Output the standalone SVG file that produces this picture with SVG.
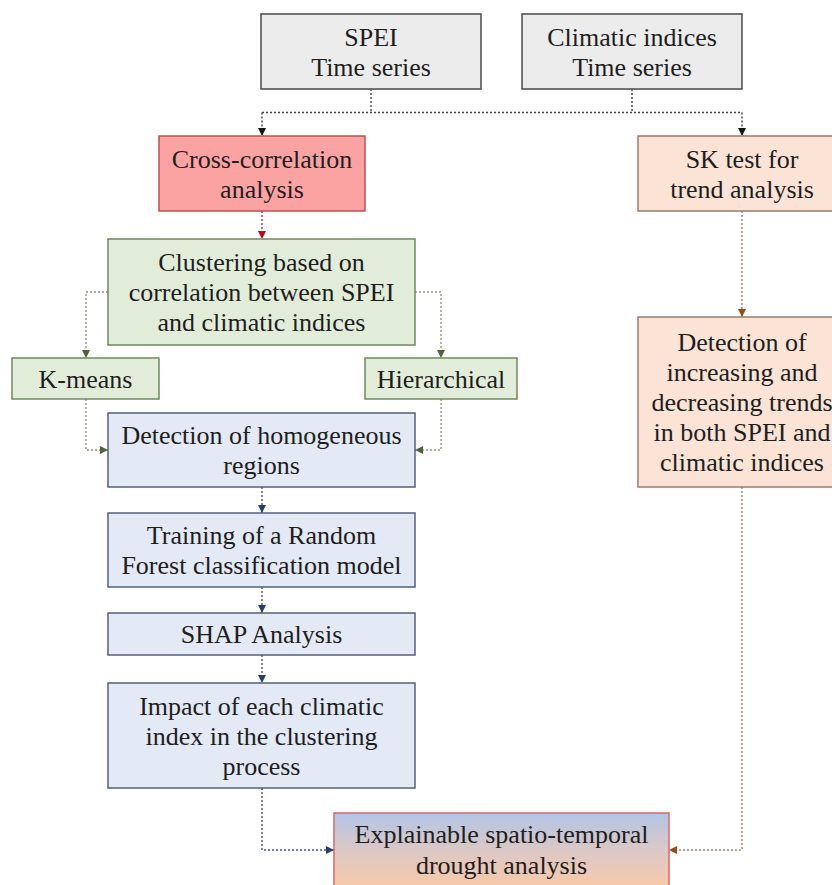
<svg xmlns="http://www.w3.org/2000/svg" width="832" height="885" viewBox="0 0 832 885">
<style>
text{font-family:"Liberation Serif","Times New Roman",serif;font-size:26px;fill:#1e1e1e;text-anchor:middle}
.box{stroke-width:1.5}
.gray{fill:#ececec;stroke:#4a4a4a}
.red{fill:#fba3a3;stroke:#c0504d}
.peach{fill:#fbe3d5;stroke:#9c7b6c}
.green{fill:#e2edd9;stroke:#6d8a5c}
.blue{fill:#e3e9f5;stroke:#56617a}
.final{fill:url(#gr);stroke:#e06464}
.c{fill:none;stroke-width:1.4;stroke-dasharray:2 2}
.ck{stroke:#444}
.cr{stroke:#b03030}
.cg{stroke:#8a9a80}
.cb{stroke:#4a5570}
.co{stroke:#a08070}
</style>
<defs>
<linearGradient id="gr" x1="0" y1="0" x2="0" y2="1">
<stop offset="0" stop-color="#b2c5e6"/>
<stop offset="0.5" stop-color="#dcc8c6"/>
<stop offset="1" stop-color="#f9c9a8"/>
</linearGradient>
<marker id="ak" markerUnits="userSpaceOnUse" markerWidth="10" markerHeight="10" refX="8" refY="5" orient="auto"><path d="M0,1 L8,5 L0,9 Z" fill="#111"/></marker>
<marker id="ar" markerUnits="userSpaceOnUse" markerWidth="10" markerHeight="10" refX="8" refY="5" orient="auto"><path d="M0,1 L8,5 L0,9 Z" fill="#c0001a"/></marker>
<marker id="ag" markerUnits="userSpaceOnUse" markerWidth="10" markerHeight="10" refX="8" refY="5" orient="auto"><path d="M0,1 L8,5 L0,9 Z" fill="#4e6438"/></marker>
<marker id="ab" markerUnits="userSpaceOnUse" markerWidth="10" markerHeight="10" refX="8" refY="5" orient="auto"><path d="M0,1 L8,5 L0,9 Z" fill="#24406a"/></marker>
<marker id="ao" markerUnits="userSpaceOnUse" markerWidth="10" markerHeight="10" refX="8" refY="5" orient="auto"><path d="M0,1 L8,5 L0,9 Z" fill="#9a4a1a"/></marker>
</defs>

<g id="connectors">
<path class="c ck" d="M371,89 V112.5 M632,89 V112.5 M262,112.5 H742"/>
<path class="c ck" d="M262,112.5 V136" marker-end="url(#ak)"/>
<path class="c ck" d="M742,112.5 V136" marker-end="url(#ak)"/>
<path class="c cr" d="M262,211 V239" marker-end="url(#ar)"/>
<path class="c cg" d="M108,292 H86 V358" marker-end="url(#ag)"/>
<path class="c cg" d="M415,292 H441 V358" marker-end="url(#ag)"/>
<path class="c cg" d="M86,399 V450 H108" marker-end="url(#ag)"/>
<path class="c cg" d="M441,399 V450 H415" marker-end="url(#ag)"/>
<path class="c cb" d="M262,487 V513" marker-end="url(#ab)"/>
<path class="c cb" d="M262,587 V613" marker-end="url(#ab)"/>
<path class="c cb" d="M262,655 V683" marker-end="url(#ab)"/>
<path class="c cb" d="M262,788 V850 H334" marker-end="url(#ab)"/>
<path class="c co" d="M742,211 V317" marker-end="url(#ao)"/>
<path class="c co" d="M742,487 V850 H669" marker-end="url(#ao)"/>
</g>

<g id="spei"><rect class="box gray" x="261" y="14" width="220" height="75"/>
<text x="371" y="45.5">SPEI</text><text x="371" y="75.5">Time series</text></g>

<g id="climatic"><rect class="box gray" x="522" y="14" width="220" height="75"/>
<text x="632" y="45.5">Climatic indices</text><text x="632" y="75.5">Time series</text></g>

<g id="crosscorr"><rect class="box red" x="159" y="136" width="206" height="75"/>
<text x="262" y="167.5">Cross-correlation</text><text x="262" y="197.5">analysis</text></g>

<g id="sktest"><rect class="box peach" x="638" y="136" width="208" height="75"/>
<text x="742" y="167.5">SK test for</text><text x="742" y="197.5">trend analysis</text></g>

<g id="clustering"><rect class="box green" x="108" y="239" width="307" height="106"/>
<text x="261.5" y="271">Clustering based on</text><text x="261.5" y="301">correlation between SPEI</text><text x="261.5" y="331">and climatic indices</text></g>

<g id="kmeans"><rect class="box green" x="12" y="358" width="147" height="41"/>
<text x="85.5" y="387.5">K-means</text></g>

<g id="hierarchical"><rect class="box green" x="365" y="358" width="152" height="41"/>
<text x="441" y="387.5">Hierarchical</text></g>

<g id="trends"><rect class="box peach" x="638" y="317" width="208" height="170"/>
<text x="742" y="351">Detection of</text><text x="742" y="381">increasing and</text><text x="742" y="411">decreasing trends</text><text x="742" y="441">in both SPEI and</text><text x="742" y="471">climatic indices</text></g>

<g id="homogeneous"><rect class="box blue" x="108" y="413" width="307" height="74"/>
<text x="261.5" y="444">Detection of homogeneous</text><text x="261.5" y="474">regions</text></g>

<g id="training"><rect class="box blue" x="108" y="513" width="307" height="74"/>
<text x="261.5" y="544">Training of a Random</text><text x="261.5" y="574">Forest classification model</text></g>

<g id="shap"><rect class="box blue" x="108" y="613" width="307" height="42"/>
<text x="261.5" y="643">SHAP Analysis</text></g>

<g id="impact"><rect class="box blue" x="108" y="683" width="307" height="105"/>
<text x="261.5" y="714.5">Impact of each climatic</text><text x="261.5" y="744.5">index in the clustering</text><text x="261.5" y="774.5">process</text></g>

<g id="final"><rect class="box final" x="334" y="813" width="335" height="76"/>
<text x="501.5" y="843">Explainable spatio-temporal</text><text x="501.5" y="874">drought analysis</text></g>
</svg>
